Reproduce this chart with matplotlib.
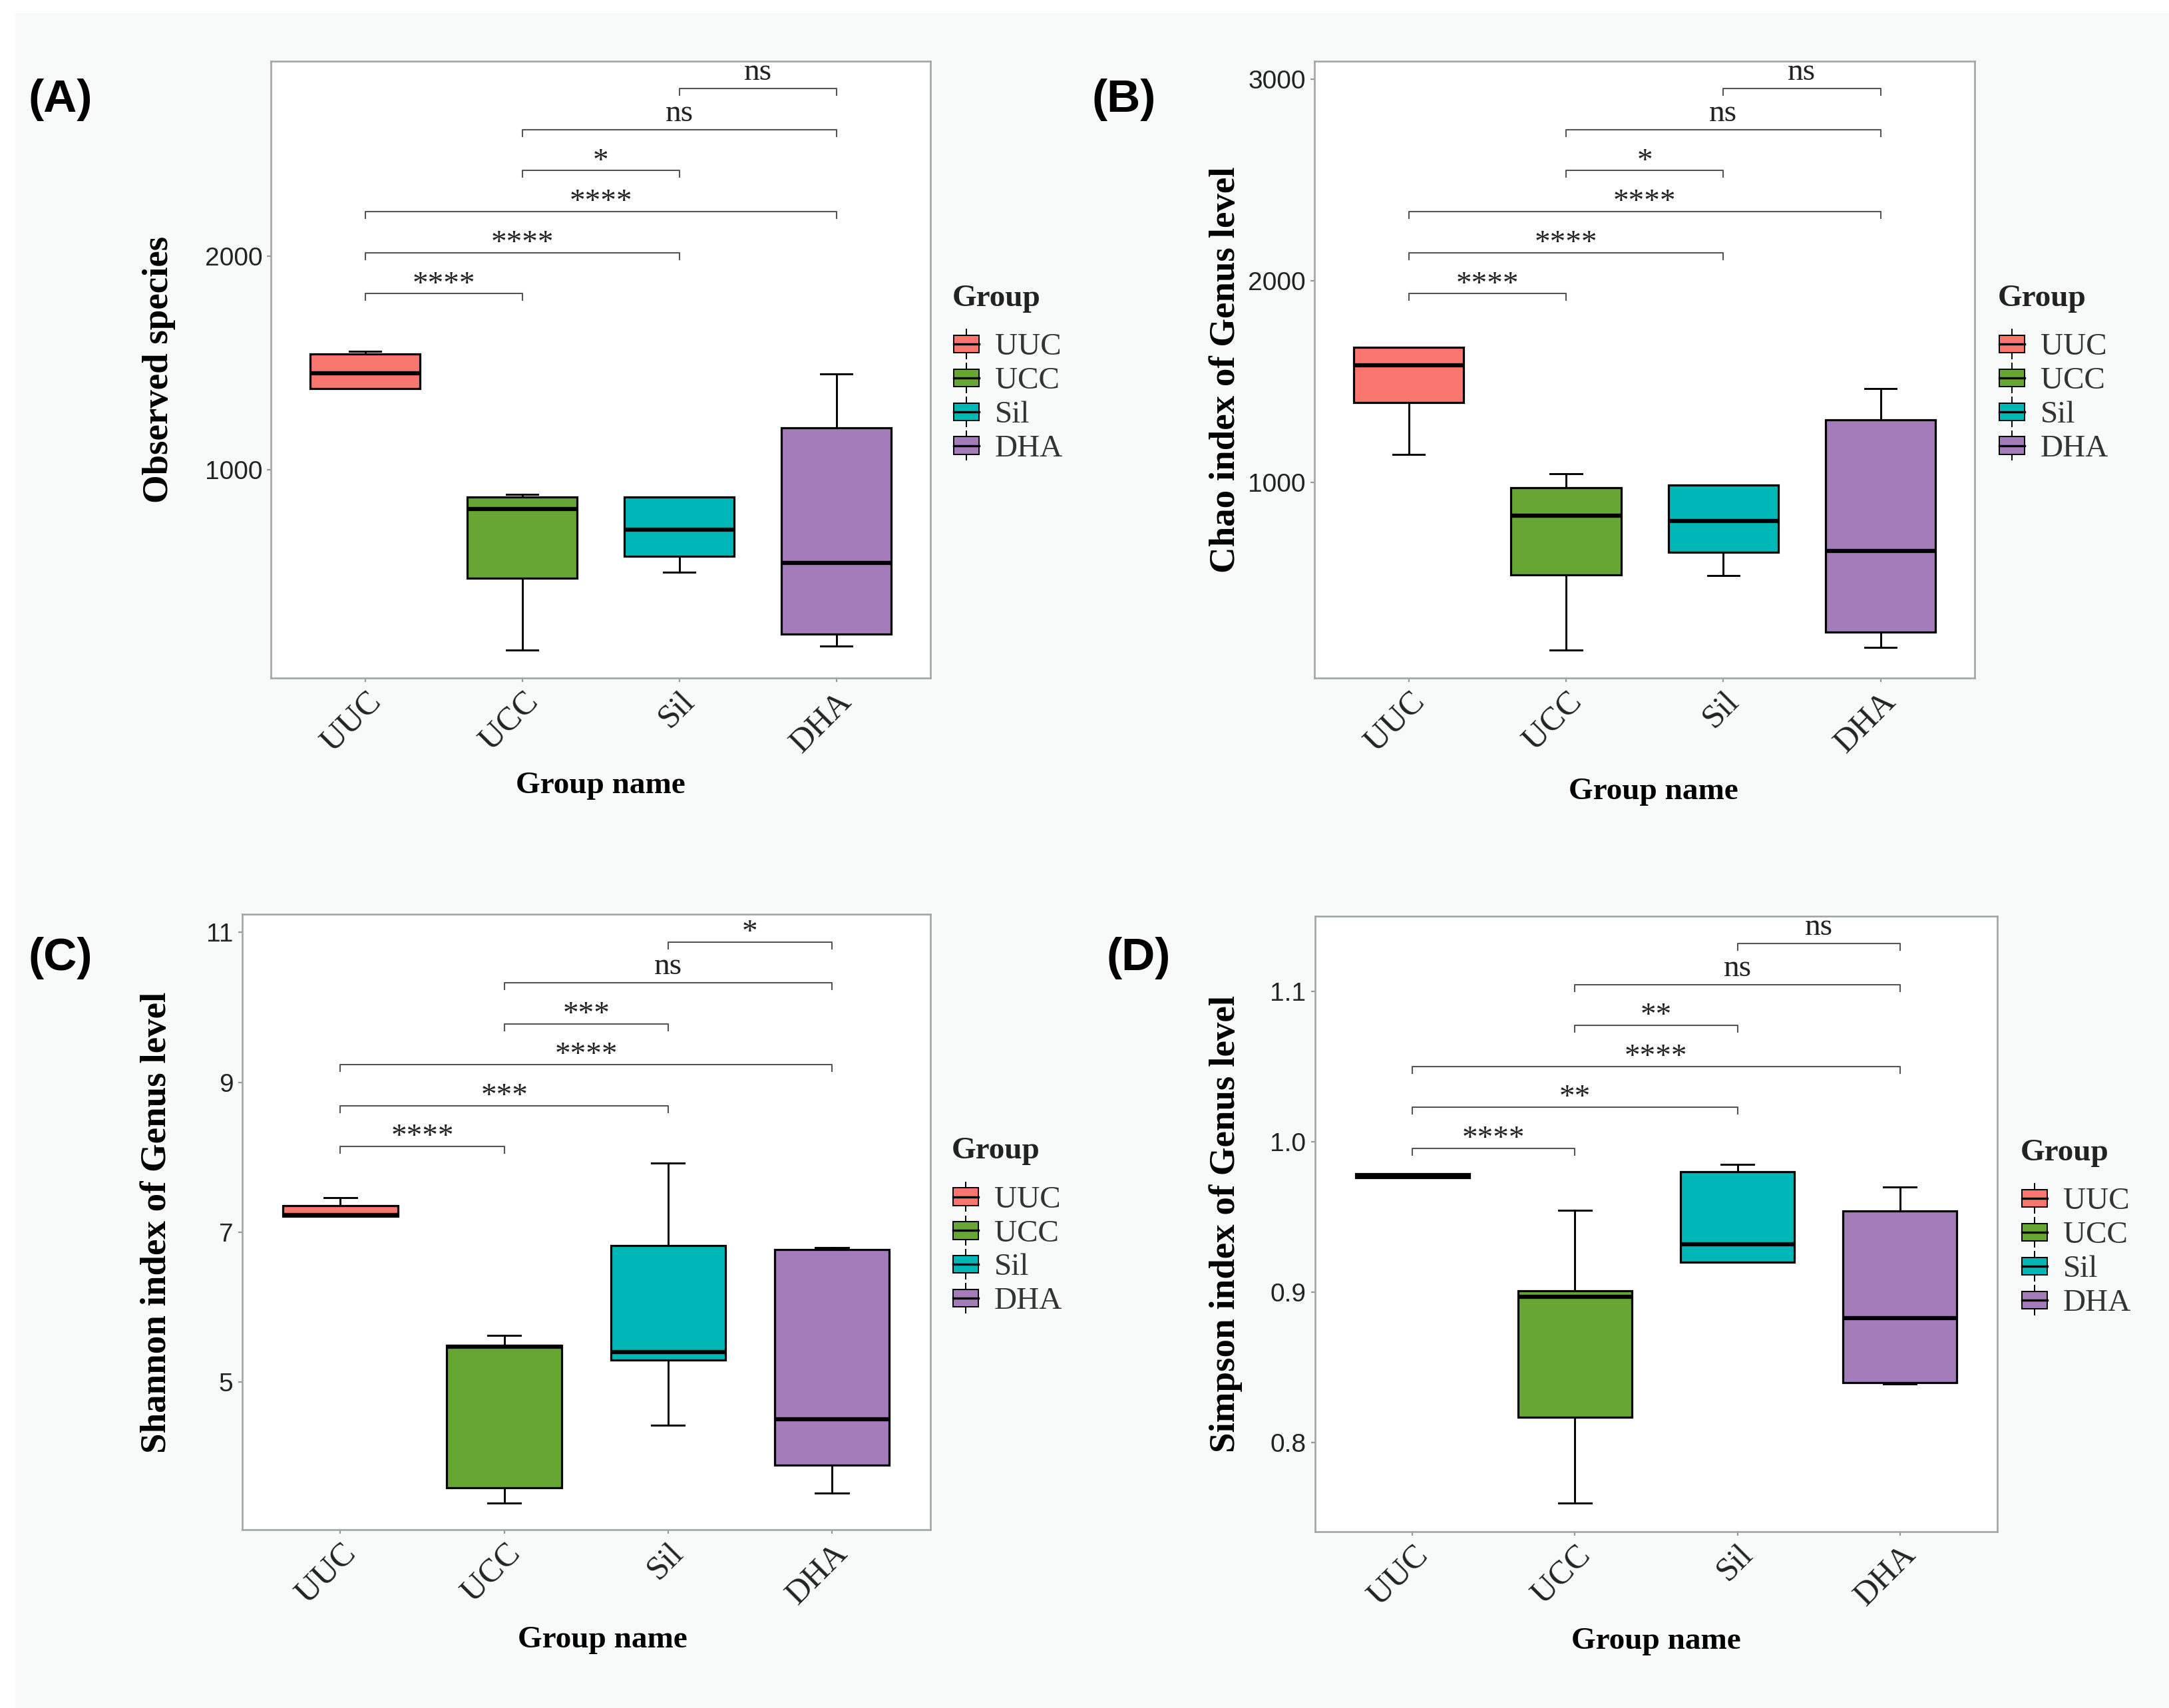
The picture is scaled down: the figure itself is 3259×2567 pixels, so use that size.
import matplotlib
matplotlib.use("Agg")
import matplotlib.pyplot as plt
import matplotlib.transforms as mtransforms
from matplotlib.patches import Rectangle, Patch
from matplotlib.lines import Line2D
from matplotlib.legend_handler import HandlerBase

groups = ["UUC", "UCC", "Sil", "DHA"]
colors = ["#F8766D", "#66A733", "#00B7B8", "#A37CB9"]

# five numbers per group: low whisker, q1, median, q3, high whisker
observed = [
    [1382, 1382, 1453, 1542, 1555],
    [160, 494, 817, 875, 885],
    [524, 598, 723, 873, 873],
    [176, 232, 567, 1198, 1450],
]
chao = [
    [1139, 1398, 1582, 1671, 1671],
    [171, 544, 835, 973, 1043],
    [538, 655, 808, 987, 987],
    [182, 260, 660, 1312, 1466],
]
shannon = [
    [7.21, 7.21, 7.23, 7.355, 7.46],
    [3.39, 3.59, 5.47, 5.49, 5.62],
    [4.43, 5.30, 5.40, 6.82, 7.92],
    [3.52, 3.89, 4.51, 6.77, 6.80],
]
simpson = [
    [0.976, 0.976, 0.977, 0.979, 0.979],
    [0.760, 0.817, 0.897, 0.901, 0.9545],
    [0.920, 0.920, 0.932, 0.980, 0.985],
    [0.839, 0.840, 0.883, 0.954, 0.970],
]

# pairwise comparisons (index into groups) and their significance labels
pairs = [(0, 1), (0, 2), (0, 3), (1, 2), (1, 3), (2, 3)]
sig_observed = ["****", "****", "****", "*", "ns", "ns"]
sig_chao = ["****", "****", "****", "*", "ns", "ns"]
sig_shannon = ["****", "***", "****", "***", "ns", "*"]
sig_simpson = ["****", "**", "****", "**", "ns", "ns"]

SERIF = "Liberation Serif"
SANS = "Liberation Sans"


class BoxKey(HandlerBase):
    # small boxplot glyph like ggplot legend keys
    def create_artists(self, legend, orig_handle, xdescent, ydescent,
                       width, height, fontsize, trans):
        x0, y0 = -xdescent, -ydescent
        bw, bh = width * 0.9, height * 0.6
        bx = x0 + (width - bw) / 2
        by = y0 + (height - bh) / 2
        cx = x0 + width / 2
        box = Rectangle((bx, by), bw, bh, facecolor=orig_handle.get_facecolor(),
                        edgecolor="black", linewidth=1.4, transform=trans)
        med = Line2D([bx, bx + bw], [by + bh / 2] * 2, color="black", lw=2.4, transform=trans)
        top = Line2D([cx, cx], [by + bh, y0 + height], color="black", lw=1.4, transform=trans)
        bot = Line2D([cx, cx], [y0, by], color="black", lw=1.4, transform=trans)
        return [top, bot, box, med]


def draw_panel(fig, ax, summary, sig, ylim, yticks, yticklabels, ylabel,
               ylabel_x, xlabel_pos, legend_x):
    stats = []
    for name, s in zip(groups, summary):
        stats.append(dict(label=name, whislo=s[0], q1=s[1], med=s[2], q3=s[3],
                          whishi=s[4], fliers=[]))
    bp = ax.bxp(stats, positions=range(1, len(groups) + 1), widths=0.7, capwidths=0.2,
                patch_artist=True, showfliers=False,
                boxprops=dict(edgecolor="black", linewidth=2.3),
                medianprops=dict(color="black", linewidth=4.5),
                whiskerprops=dict(color="black", linewidth=2.1),
                capprops=dict(color="black", linewidth=2.1))
    for patch, c in zip(bp["boxes"], colors):
        patch.set_facecolor(c)

    ax.set_xlim(0.4, len(groups) + 0.6)
    ax.set_ylim(*ylim)
    ax.set_yticks(yticks)
    ax.set_yticklabels(yticklabels, fontfamily=SANS, fontsize=28)
    ax.set_xticks(range(1, len(groups) + 1))
    ax.set_xticklabels(groups, rotation=45, ha="right", rotation_mode="anchor",
                       fontfamily=SERIF, fontsize=36)
    ax.tick_params(axis="both", colors="#999999", length=4.5, width=1.6, labelcolor="#222222")
    ax.tick_params(axis="x", pad=4)
    ax.tick_params(axis="y", pad=5)
    for sp in ax.spines.values():
        sp.set_color("#a0a6a6")
        sp.set_linewidth(1.9)

    ax.set_ylabel(ylabel, fontfamily=SERIF, fontweight="bold", fontsize=39.5)
    ax.yaxis.set_label_coords(ylabel_x, 0.5,
                              transform=mtransforms.blended_transform_factory(fig.transFigure,
                                                                              ax.transAxes))
    ax.set_xlabel("Group name", fontfamily=SERIF, fontweight="bold", fontsize=34)
    ax.xaxis.set_label_coords(*xlabel_pos)

    # significance brackets, stacked in axes fraction like stat_compare_means
    trans = mtransforms.blended_transform_factory(ax.transData, ax.transAxes)
    for k, ((i, j), lab) in enumerate(zip(pairs, sig)):
        y = 0.623 + k * 0.0665
        ax.plot([i + 1, i + 1, j + 1, j + 1], [y - 0.011, y, y, y - 0.011], transform=trans,
                color="#555555", lw=1.5, clip_on=False)
        dy = 0.003 if lab == "ns" else -0.009
        ax.text((i + j) / 2 + 1, y + dy, lab, transform=trans, ha="center", va="bottom",
                fontfamily=SERIF, fontsize=34, color="#222222")

    # legend: title placed by hand so the gap under it matches
    ax.text(legend_x, 0.615, "Group", transform=ax.transAxes, ha="left", va="center",
            fontfamily=SERIF, fontweight="bold", fontsize=34, color="#222222")
    handles = [Patch(facecolor=c, label=g) for g, c in zip(groups, colors)]
    leg = ax.legend(handles=handles, loc="upper left",
                    bbox_to_anchor=(legend_x, 0.565), frameon=False,
                    handler_map={Patch: BoxKey()}, handlelength=0.9, handleheight=1.05,
                    handletextpad=0.45, labelspacing=0.06, borderaxespad=0, borderpad=0,
                    prop=dict(family=SERIF, size=34))
    for t in leg.get_texts():
        t.set_color("#333333")


fig = plt.figure(figsize=(32.59, 25.67), dpi=100, facecolor="white")
fig.patches.append(Rectangle((23 / 3259, 0), 1, 1 - 20 / 2567, transform=fig.transFigure,
                             facecolor="#f8f9f9", edgecolor="none", zorder=-10))

ax_a = fig.add_axes([0.125, 0.603, 0.304, 0.3613])
ax_b = fig.add_axes([0.606, 0.603, 0.3045, 0.3613])
ax_c = fig.add_axes([0.1116, 0.1043, 0.3173, 0.3603])
ax_d = fig.add_axes([0.6062, 0.1033, 0.3147, 0.3603])

draw_panel(fig, ax_a, observed, sig_observed, (28, 2911), [1000, 2000], ["1000", "2000"],
           "Observed species", 0.081, (0.5, -0.152), 1.033)
draw_panel(fig, ax_b, chao, sig_chao, (31, 3089), [1000, 2000, 3000], ["1000", "2000", "3000"],
           "Chao index of Genus level", 0.573, (0.513, -0.162), 1.035)
draw_panel(fig, ax_c, shannon, sig_shannon, (3.03, 11.24), [5, 7, 9, 11], ["5", "7", "9", "11"],
           "Shannon index of Genus level", 0.080, (0.524, -0.156), 1.031)
draw_panel(fig, ax_d, simpson, sig_simpson, (0.741, 1.150), [0.8, 0.9, 1.0, 1.1],
           ["0.8", "0.9", "1.0", "1.1"], "Simpson index of Genus level", 0.573,
           (0.5, -0.156), 1.034)

for lab, x, y in [("(A)", 0.013, 0.9415), ("(B)", 0.5035, 0.9415),
                  ("(C)", 0.013, 0.439), ("(D)", 0.510, 0.439)]:
    fig.text(x, y, lab, fontfamily=SANS, fontweight="bold", fontsize=50,
             ha="left", va="center", color="black")

fig.savefig("out.png", dpi=100, facecolor=fig.get_facecolor())
